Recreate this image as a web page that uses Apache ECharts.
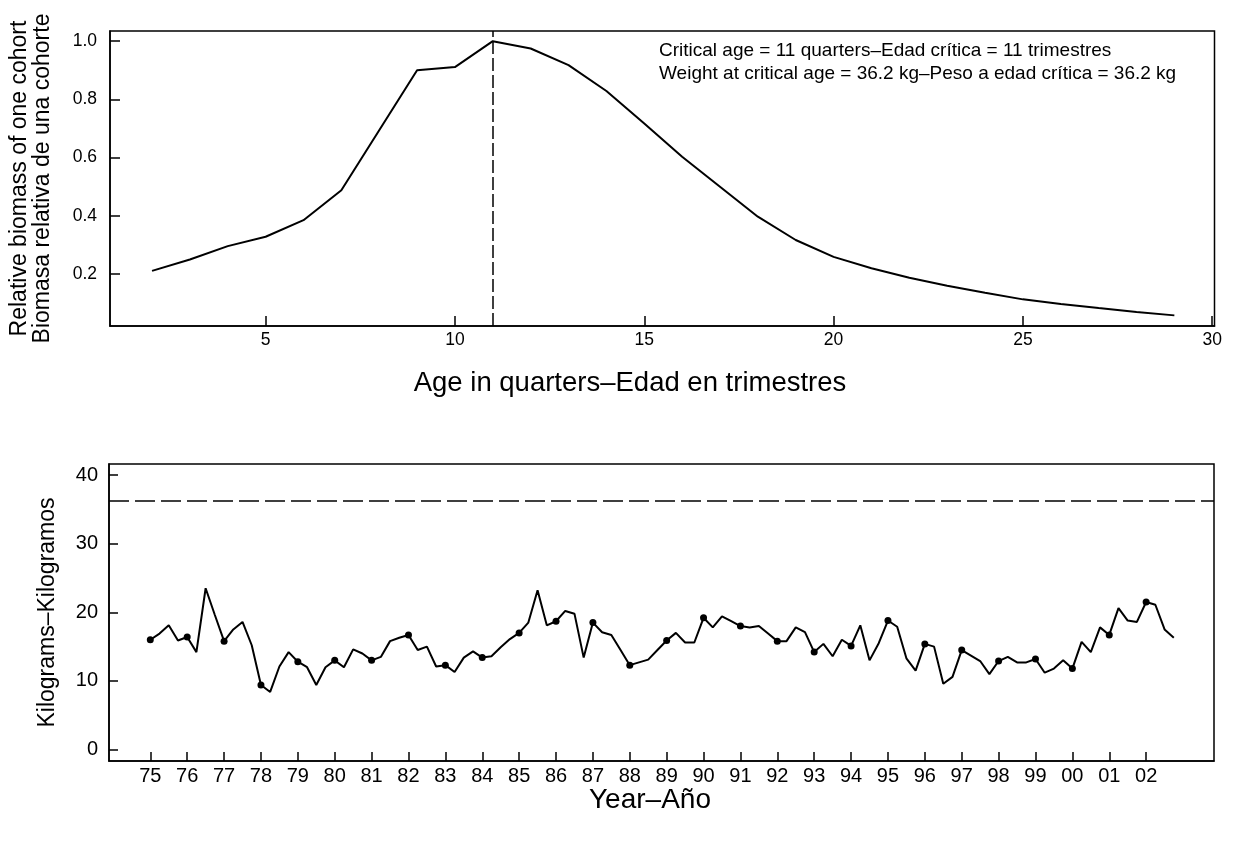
<!DOCTYPE html>
<html>
<head>
<meta charset="utf-8">
<script src="https://cdn.jsdelivr.net/npm/echarts@6/dist/echarts.min.js"></script>
<style>
  html, body { margin: 0; padding: 0; background: #fff; }
  #chart { width: 1233px; height: 841px; }
</style>
</head>
<body>
<div id="chart"></div>
<script>
// Upper panel: relative biomass of one cohort by age (quarters)
const ages = [2, 3, 4, 5, 6, 7, 8, 9, 10, 11, 12, 13, 14, 15, 16, 17, 18, 19, 20, 21, 22, 23, 24, 25, 26, 27, 28, 29];
const relativeBiomass = [0.211, 0.250, 0.296, 0.328, 0.385, 0.488, 0.694, 0.900, 0.911, 1.000,
  0.975, 0.918, 0.829, 0.717, 0.603, 0.500, 0.397, 0.317, 0.259, 0.220,
  0.187, 0.160, 0.136, 0.113, 0.097, 0.083, 0.070, 0.058];
const ageTicks = [5, 10, 15, 20, 25, 30];
const biomassTicks = [0.2, 0.4, 0.6, 0.8, 1.0];

const criticalAge = 11;       // quarters
const criticalWeight = 36.2;  // kg

// Lower panel: mean weight (kg) per quarter, 1975 Q1 to 2002 Q4
const startYear = 1975;
const weightKg = [
  16.0, 16.9, 18.1, 15.9,   // 1975
  16.4, 14.2, 23.5, 19.6,   // 1976
  15.8, 17.5, 18.6, 15.2,   // 1977
  9.4, 8.4, 12.1, 14.2,     // 1978
  12.8, 12.0, 9.4, 12.0,    // 1979
  13.0, 12.0, 14.6, 14.0,   // 1980
  13.0, 13.5, 15.8, 16.3,   // 1981
  16.7, 14.5, 15.0, 12.1,   // 1982
  12.3, 11.3, 13.4, 14.3,   // 1983
  13.4, 13.6, 14.9, 16.1,   // 1984
  17.0, 18.5, 23.2, 18.1,   // 1985
  18.7, 20.2, 19.8, 13.4,   // 1986
  18.5, 17.1, 16.7, 14.5,   // 1987
  12.3, 12.7, 13.1, 14.5,   // 1988
  15.9, 17.0, 15.6, 15.6,   // 1989
  19.2, 17.8, 19.4, 18.7,   // 1990
  18.0, 17.8, 18.0, 16.9,   // 1991
  15.8, 15.8, 17.8, 17.1,   // 1992
  14.2, 15.4, 13.6, 16.0,   // 1993
  15.1, 18.1, 13.0, 15.5,   // 1994
  18.8, 17.9, 13.3, 11.5,   // 1995
  15.4, 15.0, 9.6, 10.6,    // 1996
  14.5, 13.7, 12.9, 11.0,   // 1997
  12.9, 13.5, 12.7, 12.7,   // 1998
  13.2, 11.2, 11.8, 13.0,   // 1999
  11.8, 15.7, 14.2, 17.8,   // 2000
  16.7, 20.6, 18.8, 18.6,   // 2001
  21.5, 21.1, 17.5, 16.3    // 2002
];
const yearTicks = [];
for (let y = 1975; y <= 2002; y++) yearTicks.push(y);
const weightTicks = [0, 10, 20, 30, 40];

const FONT = '"Liberation Sans", Arial, Helvetica, sans-serif';
const BLACK = '#000';

const biomassData = ages.map((a, i) => [a, relativeBiomass[i]]);
const weightData = weightKg.map((w, i) => [startYear + i / 4, w]);

const axisLine = { show: true, onZero: false, lineStyle: { color: BLACK, width: 1.5 } };
const tickStyle = { color: BLACK, width: 1.5 };

const chart = echarts.init(document.getElementById('chart'), null, { renderer: 'canvas' });

chart.setOption({
  animation: false,
  backgroundColor: '#fff',
  textStyle: { fontFamily: FONT, color: BLACK },
  grid: [
    { left: 109, right: 18.5, top: 31, height: 295, show: true, borderColor: BLACK, borderWidth: 1.5 },
    { left: 109, right: 19, top: 464, height: 297, show: true, borderColor: BLACK, borderWidth: 1.5 }
  ],
  xAxis: [
    {
      gridIndex: 0, type: 'value', min: 0.89, max: 30.06,
      axisLine: axisLine,
      axisTick: { show: true, inside: true, length: 10, customValues: ageTicks, lineStyle: tickStyle },
      axisLabel: { customValues: ageTicks, fontSize: 17.5, color: BLACK, margin: 5, fontFamily: FONT },
      splitLine: { show: false }
    },
    {
      gridIndex: 1, type: 'value', min: 1973.88, max: 2003.84,
      axisLine: axisLine,
      axisTick: { show: true, inside: true, length: 9, customValues: yearTicks, lineStyle: tickStyle },
      axisLabel: {
        customValues: yearTicks, fontSize: 20, color: BLACK, margin: 5, fontFamily: FONT,
        formatter: v => String(Math.round(v) % 100).padStart(2, '0')
      },
      splitLine: { show: false }
    }
  ],
  yAxis: [
    {
      gridIndex: 0, type: 'value', min: 0.0215, max: 1.035,
      axisLine: axisLine,
      axisTick: { show: true, inside: true, length: 10, customValues: biomassTicks, lineStyle: tickStyle },
      axisLabel: { customValues: biomassTicks, fontSize: 17.5, color: BLACK, margin: 13, fontFamily: FONT,
        formatter: v => v.toFixed(1) },
      splitLine: { show: false },
      name: 'Relative biomass of one cohort\nBiomasa relativa de una cohorte',
      nameLocation: 'middle', nameGap: 56, nameRotate: 90,
      nameTextStyle: { fontSize: 23, lineHeight: 23, color: BLACK, fontFamily: FONT }
    },
    {
      gridIndex: 1, type: 'value', min: -1.66, max: 41.6,
      axisLine: axisLine,
      axisTick: { show: true, inside: true, length: 9, customValues: weightTicks, lineStyle: tickStyle },
      axisLabel: { customValues: weightTicks, fontSize: 20, color: BLACK, margin: 11, fontFamily: FONT },
      splitLine: { show: false },
      name: 'Kilograms\u2013Kilogramos',
      nameLocation: 'middle', nameGap: 50, nameRotate: 90,
      nameTextStyle: { fontSize: 23, color: BLACK, fontFamily: FONT }
    }
  ],
  graphic: [
    {
      type: 'text', left: 659, top: 39, silent: true,
      style: {
        text: 'Critical age = ' + criticalAge + ' quarters\u2013Edad cr\u00edtica = ' + criticalAge + ' trimestres\n' +
              'Weight at critical age = ' + criticalWeight + ' kg\u2013Peso a edad cr\u00edtica = ' + criticalWeight + ' kg',
        font: '19px ' + FONT, lineHeight: 23, fill: BLACK
      }
    },
    {
      // x-axis title, upper panel
      type: 'text', x: 630, y: 383, silent: true,
      style: {
        text: 'Age in quarters\u2013Edad en trimestres',
        font: '27.5px ' + FONT, fill: BLACK, align: 'center', verticalAlign: 'middle'
      }
    },
    {
      // x-axis title, lower panel
      type: 'text', x: 650, y: 800, silent: true,
      style: {
        text: 'Year\u2013A\u00f1o',
        font: '28px ' + FONT, fill: BLACK, align: 'center', verticalAlign: 'middle'
      }
    }
  ],
  series: [
    {
      type: 'line', xAxisIndex: 0, yAxisIndex: 0, data: biomassData,
      showSymbol: false, silent: true,
      lineStyle: { color: BLACK, width: 2 },
      markLine: {
        silent: true, symbol: ['none', 'none'], label: { show: false },
        lineStyle: { color: BLACK, width: 1.5, type: [13, 4] },
        data: [{ xAxis: criticalAge }]
      }
    },
    {
      type: 'line', xAxisIndex: 1, yAxisIndex: 1, data: weightData,
      showSymbol: true, showAllSymbol: true, symbol: 'circle',
      symbolSize: (val, params) => (params.dataIndex % 4 === 0 ? 7 : 0),
      itemStyle: { color: BLACK },
      silent: true,
      lineStyle: { color: BLACK, width: 2 },
      markLine: {
        silent: true, symbol: ['none', 'none'], label: { show: false },
        lineStyle: { color: BLACK, width: 1.5, type: [20, 6] },
        data: [{ yAxis: criticalWeight }]
      }
    }
  ]
});
</script>
</body>
</html>
